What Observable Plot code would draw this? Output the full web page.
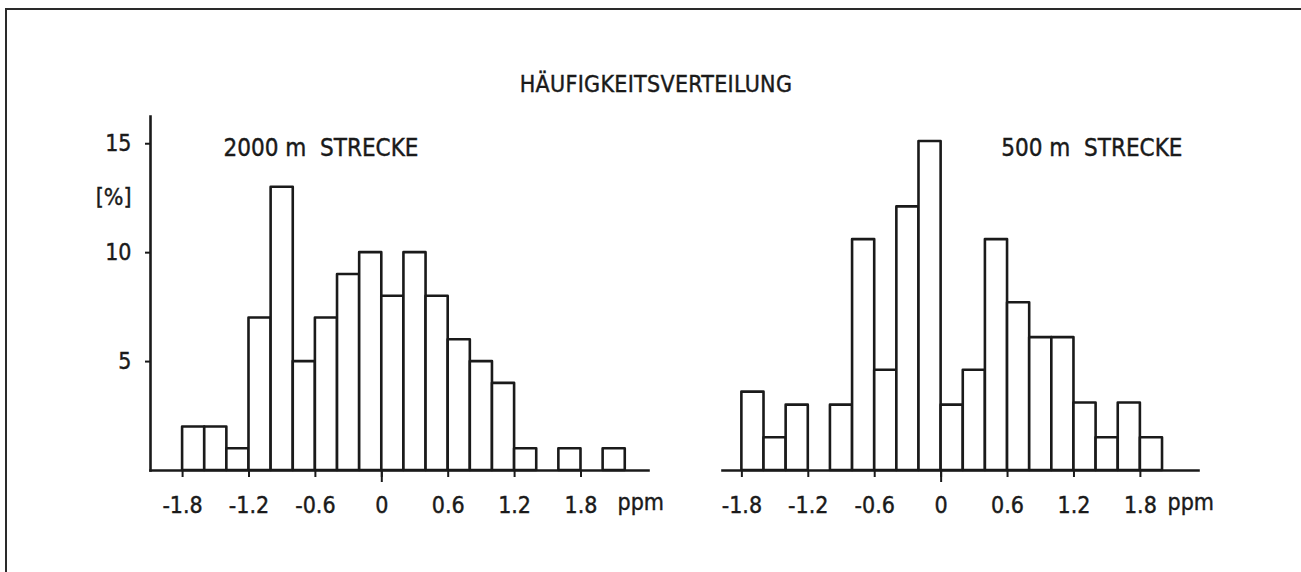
<!DOCTYPE html>
<html>
<head>
<meta charset="utf-8">
<script src="https://cdn.jsdelivr.net/npm/d3@7"></script>
<script src="https://cdn.jsdelivr.net/npm/@observablehq/plot@0.6"></script>
<style>
  html, body { margin: 0; padding: 0; background: #fff; }
  #wrap { position: relative; width: 1301px; height: 572px; background: #fff; overflow: hidden;
          font-family: "DejaVu Sans Condensed", "DejaVu Sans", sans-serif; font-stretch: condensed; color: #1a1a1a; }
  #frame { position: absolute; left: 5px; top: 8px; width: 1300px; height: 570px;
           border-left: 2px solid #2a2a2a; border-top: 2px solid #2a2a2a; }
  #title { position: absolute; left: 0; width: 1312px; top: 69px; text-align: center;
           font-size: 23px; line-height: 30px; letter-spacing: 0.3px; -webkit-text-stroke: 0.4px #1a1a1a; }
  .panel { position: absolute; top: 0; }
  #wrap svg text { stroke: #1a1a1a; stroke-width: 0.4px; }
</style>
</head>
<body>
<div id="wrap">
  <div id="frame"></div>
  <div id="title">HÄUFIGKEITSVERTEILUNG</div>
  <div id="left" class="panel" style="left:0px"></div>
  <div id="right" class="panel" style="left:680px"></div>
</div>
<script>
// ---- data ----
const titleText = "HÄUFIGKEITSVERTEILUNG";
const leftTitle = "2000 m\u00a0\u00a0STRECKE";
const rightTitle = "500 m\u00a0\u00a0STRECKE";
const yUnit = "[%]";
const xUnit = "ppm";

// 2000 m Strecke: bins (ppm) and frequencies (%)
const leftBinLower = [-1.8, -1.6, -1.4, -1.2, -1.0, -0.8, -0.6, -0.4, -0.2, 0.0, 0.2, 0.4, 0.6, 0.8, 1.0, 1.2, 1.4, 1.6, 1.8, 2.0];
const leftBinUpper = [-1.6, -1.4, -1.2, -1.0, -0.8, -0.6, -0.4, -0.2, 0.0, 0.2, 0.4, 0.6, 0.8, 1.0, 1.2, 1.4, 1.6, 1.8, 2.0, 2.2];
const leftValues   = [2, 2, 1, 7, 13, 5, 7, 9, 10, 8, 10, 8, 6, 5, 4, 1, 0, 1, 0, 1];

// 500 m Strecke
const rightBinLower = [-1.8, -1.6, -1.4, -1.2, -1.0, -0.8, -0.6, -0.4, -0.2, 0.0, 0.2, 0.4, 0.6, 0.8, 1.0, 1.2, 1.4, 1.6, 1.8];
const rightBinUpper = [-1.6, -1.4, -1.2, -1.0, -0.8, -0.6, -0.4, -0.2, 0.0, 0.2, 0.4, 0.6, 0.8, 1.0, 1.2, 1.4, 1.6, 1.8, 2.0];
const rightValues   = [3.6, 1.5, 3.0, 0, 3.0, 10.6, 4.6, 12.1, 15.1, 3.0, 4.6, 10.6, 7.7, 6.1, 6.1, 3.1, 1.5, 3.1, 1.5];

// axes
const xTicks = [-1.8, -1.2, -0.6, 0, 0.6, 1.2, 1.8];
const xTickLabels = ["-1.8", "-1.2", "-0.6", "0", "0.6", "1.2", "1.8"];
const zeroTick = [0];
const yTicks = [5, 10, 15];
const yTickLabels = ["5", "10", "15"];
const yDomain = [0, 16.25];
const leftXDomain = [-2.09, 2.41];
const rightXDomain = [-1.975, 2.325];

// ---- build ----
const ink = "#1a1a1a";
const font = `"DejaVu Sans Condensed", "DejaVu Sans", sans-serif`;

function rows(lo, hi, v) {
  return lo.map((d, i) => ({x1: d, x2: hi[i], y: v[i]})).filter(d => d.y > 0);
}
const fmtX = d => xTickLabels[xTicks.indexOf(d)];
const fmtY = d => yTickLabels[yTicks.indexOf(d)];

function panel({width, marginLeft, marginRight, xDomain, data, withY, label, labelRight}) {
  const marks = [
    Plot.rectY(data, {x1: "x1", x2: "x2", y: "y", fill: "white", stroke: ink, strokeWidth: 2.6, strokeLinejoin: "round"}),
    Plot.frame({anchor: "bottom", stroke: ink, strokeWidth: 2.6}),
    Plot.axisX({ticks: xTicks, tickFormat: fmtX, tickSize: 7, tickPadding: 19, strokeWidth: 2, label: null, fill: ink, stroke: ink}),
    Plot.axisX({ticks: zeroTick, tickFormat: () => "", tickSize: 12, strokeWidth: 2, label: null, stroke: ink}),
    Plot.text([xUnit], {frameAnchor: "bottom-right", dx: -31, dy: 39, textAnchor: "start", fill: ink}),
    labelRight
      ? Plot.text([label], {frameAnchor: "top-right", dx: -16, dy: 22, textAnchor: "end", fill: ink, fontSize: 24})
      : Plot.text([label], {frameAnchor: "top-left", dx: 73, dy: 22, textAnchor: "start", fill: ink, fontSize: 24})
  ];
  if (withY) {
    marks.push(
      Plot.frame({anchor: "left", stroke: ink, strokeWidth: 2.6}),
      Plot.axisY({ticks: yTicks, tickFormat: fmtY, tickSize: 5, tickPadding: 14, strokeWidth: 2, label: null, fill: ink, stroke: ink}),
      Plot.text([yUnit], {frameAnchor: "top-left", dx: -19, dy: 72, textAnchor: "end", fill: ink})
    );
  }
  return Plot.plot({
    width, height: 572,
    marginLeft, marginRight, marginTop: 116, marginBottom: 102,
    x: {domain: xDomain},
    y: {domain: yDomain, axis: withY ? undefined : null},
    style: {fontFamily: font, fontSize: "23px", fontStretch: "condensed", color: ink, background: "transparent", overflow: "visible"},
    marks
  });
}

document.getElementById("left").append(panel({
  width: 680, marginLeft: 150, marginRight: 32, xDomain: leftXDomain,
  data: rows(leftBinLower, leftBinUpper, leftValues), withY: true, label: leftTitle, labelRight: false
}));
document.getElementById("right").append(panel({
  width: 621, marginLeft: 42, marginRight: 103, xDomain: rightXDomain,
  data: rows(rightBinLower, rightBinUpper, rightValues), withY: false, label: rightTitle, labelRight: true
}));
document.getElementById("title").textContent = titleText;
</script>
</body>
</html>
